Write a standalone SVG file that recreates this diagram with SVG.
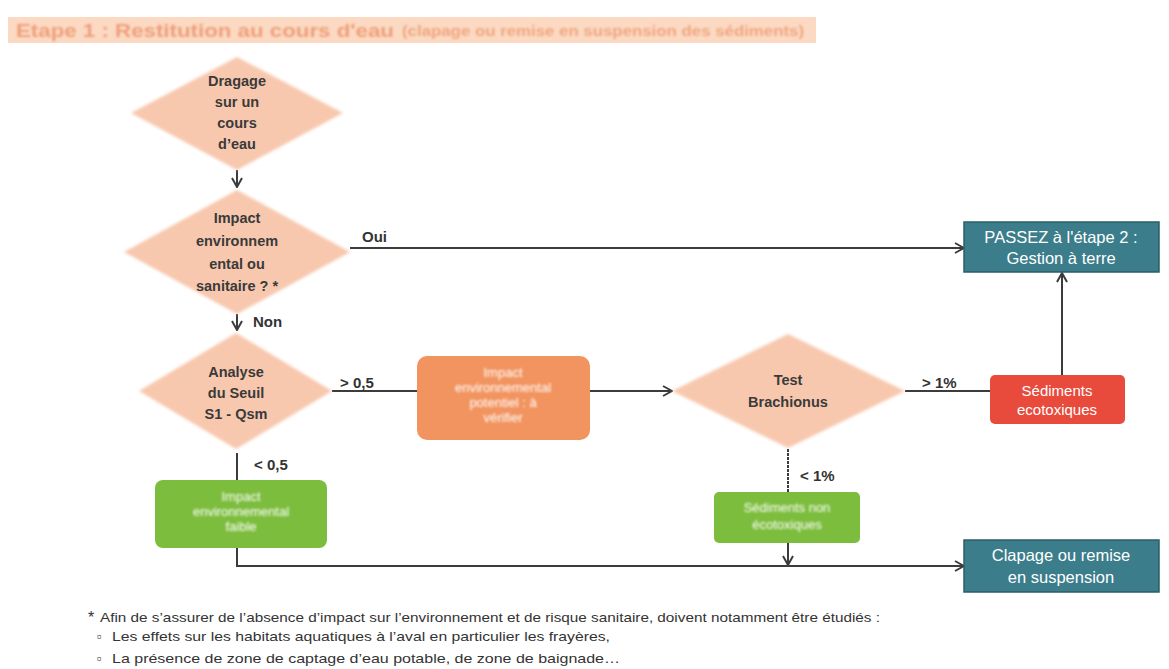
<svg xmlns="http://www.w3.org/2000/svg" width="1169" height="669" viewBox="0 0 1169 669">
  <style>
    .dia { fill: #f8c8ae; }
    .dt { font-family: "Liberation Sans", Arial, sans-serif; font-size: 14.5px; font-weight: bold; fill: #3a3a3a; text-anchor: middle; }
    .lbl { font-family: "Liberation Sans", Arial, sans-serif; font-size: 15px; font-weight: bold; fill: #333; }
    .bt { font-family: "Liberation Sans", Arial, sans-serif; font-size: 13px; fill: #ffffff; text-anchor: middle; }
    .bt-md { font-size: 15px; }
    .bt-lg { font-size: 16.5px; }
    .soft { filter: url(#soft); }
    .wire { stroke: #3c3c3c; stroke-width: 2; fill: none; }
    .note { font-family: "Liberation Sans", Arial, sans-serif; font-size: 13.5px; fill: #333; }
  </style>
  <defs>
    <marker id="arr" viewBox="0 0 12 12" refX="11" refY="6" markerWidth="12" markerHeight="12" markerUnits="userSpaceOnUse" orient="auto">
      <path d="M2,1 L11,6 L2,11" fill="none" stroke="#3c3c3c" stroke-width="2"/>
    </marker>
    <filter id="soft" x="-10%" y="-30%" width="120%" height="160%">
      <feGaussianBlur stdDeviation="1.3"/>
    </filter>
    <filter id="edge" x="-10%" y="-10%" width="120%" height="120%">
      <feGaussianBlur stdDeviation="1.5"/>
    </filter>
  </defs>

  <rect width="1169" height="669" fill="#ffffff"/>

  <!-- title banner -->
  <g id="title">
    <rect x="8" y="17" width="808" height="26" fill="#fbd9c2"/>
    <g class="soft">
      <text x="16" y="37" font-family="Liberation Sans, Arial, sans-serif" font-size="18" font-weight="bold" fill="#ef9f7a" textLength="378" lengthAdjust="spacingAndGlyphs">Etape 1 : Restitution au cours d'eau</text>
      <text x="402" y="36" font-family="Liberation Sans, Arial, sans-serif" font-size="14" font-weight="bold" fill="#f0a681" textLength="402" lengthAdjust="spacingAndGlyphs">(clapage ou remise en suspension des sédiments)</text>
    </g>
  </g>

  <!-- connectors -->
  <g id="connectors">
    <line class="wire" x1="237" y1="170" x2="237" y2="187" marker-end="url(#arr)"/>
    <line class="wire" x1="350" y1="248" x2="964" y2="248" marker-end="url(#arr)"/>
    <line class="wire" x1="237" y1="314" x2="237" y2="330" marker-end="url(#arr)"/>
    <line class="wire" x1="332" y1="391" x2="417" y2="391"/>
    <line class="wire" x1="590" y1="391" x2="672" y2="391" marker-end="url(#arr)"/>
    <line class="wire" x1="905" y1="391" x2="990" y2="391"/>
    <line class="wire" x1="1062" y1="375" x2="1062" y2="273" marker-end="url(#arr)"/>
    <line class="wire" x1="237" y1="453" x2="237" y2="480" stroke-width="3"/>
    <line class="wire" x1="788" y1="449" x2="788" y2="492" stroke-dasharray="3 1"/>
    <line class="wire" x1="788" y1="543" x2="788" y2="565" marker-end="url(#arr)"/>
    <polyline class="wire" points="237,548 237,566 964,566" marker-end="url(#arr)"/>
  </g>

  <!-- connector labels -->
  <g id="labels">
    <text class="lbl" x="362" y="242">Oui</text>
    <text class="lbl" x="253" y="327">Non</text>
    <text class="lbl" x="340" y="388">&gt; 0,5</text>
    <text class="lbl" x="254" y="470">&lt; 0,5</text>
    <text class="lbl" x="922" y="388">&gt; 1%</text>
    <text class="lbl" x="800" y="481">&lt; 1%</text>
  </g>

  <!-- decision: dredging -->
  <g id="n-dragage">
    <polygon class="dia" filter="url(#edge)" points="237,57 343,113 237,170 131,113"/>
    <text class="dt" x="237" y="86">Dragage</text>
    <text class="dt" x="237" y="107">sur un</text>
    <text class="dt" x="237" y="128">cours</text>
    <text class="dt" x="237" y="149">d’eau</text>
  </g>

  <!-- decision: impact -->
  <g id="n-impact">
    <polygon class="dia" filter="url(#edge)" points="237,190 350,252 237,314 124,252"/>
    <text class="dt" x="237" y="223">Impact</text>
    <text class="dt" x="237" y="246">environnem</text>
    <text class="dt" x="237" y="269">ental ou</text>
    <text class="dt" x="237" y="291">sanitaire ? *</text>
  </g>

  <!-- decision: threshold S1 -->
  <g id="n-seuil">
    <polygon class="dia" filter="url(#edge)" points="236,333 332,391 236,449 139,391"/>
    <text class="dt" x="236" y="377">Analyse</text>
    <text class="dt" x="236" y="398">du Seuil</text>
    <text class="dt" x="236" y="419">S1 - Qsm</text>
  </g>

  <!-- potential impact box -->
  <g id="n-potentiel">
    <rect x="417" y="356" width="173" height="84" rx="10" fill="#f2945f"/>
    <g class="soft">
      <text class="bt" x="503" y="377">Impact</text>
      <text class="bt" x="503" y="392">environnemental</text>
      <text class="bt" x="503" y="407">potentiel : à</text>
      <text class="bt" x="503" y="422">vérifier</text>
    </g>
  </g>

  <!-- decision: Brachionus test -->
  <g id="n-brachionus">
    <polygon class="dia" filter="url(#edge)" points="788,334 905,391 788,448 672,391"/>
    <text class="dt" x="788" y="385">Test</text>
    <text class="dt" x="788" y="407">Brachionus</text>
  </g>

  <!-- ecotoxic sediments -->
  <g id="n-ecotox">
    <rect x="990" y="375" width="135" height="49" rx="5" fill="#e84a3b"/>
    <text class="bt bt-md" x="1057" y="396">Sédiments</text>
    <text class="bt bt-md" x="1057" y="415">ecotoxiques</text>
  </g>

  <!-- step 2 -->
  <g id="n-etape2">
    <rect x="964" y="222" width="195" height="50" fill="#3b7d8b" stroke="#2b5e68" stroke-width="1.5"/>
    <text class="bt bt-lg" x="1061" y="243">PASSEZ à l'étape 2 :</text>
    <text class="bt bt-lg" x="1061" y="264">Gestion à terre</text>
  </g>

  <!-- low impact -->
  <g id="n-faible">
    <rect x="155" y="480" width="172" height="68" rx="8" fill="#7cbd3e"/>
    <g class="soft">
      <text class="bt" x="241" y="501">Impact</text>
      <text class="bt" x="241" y="516">environnemental</text>
      <text class="bt" x="241" y="531">faible</text>
    </g>
  </g>

  <!-- non ecotoxic -->
  <g id="n-nonecotox">
    <rect x="714" y="492" width="146" height="51" rx="5" fill="#7cbd3e"/>
    <g class="soft">
      <text class="bt" x="787" y="512">Sédiments non</text>
      <text class="bt" x="787" y="529">écotoxiques</text>
    </g>
  </g>

  <!-- dumping / resuspension -->
  <g id="n-clapage">
    <rect x="964" y="540" width="195" height="52" fill="#3b7d8b" stroke="#2b5e68" stroke-width="1.5"/>
    <text class="bt bt-lg" x="1061" y="561">Clapage ou remise</text>
    <text class="bt bt-lg" x="1061" y="583">en suspension</text>
  </g>

  <!-- footnote -->
  <g id="footnote">
    <text class="note" x="88" y="623" style="font-size:16px">*</text>
    <text class="note" x="100" y="622" textLength="780" lengthAdjust="spacingAndGlyphs">Afin de s’assurer de l’absence d’impact sur l’environnement et de risque sanitaire, doivent notamment être étudiés :</text>
    <text class="note" x="97" y="641" fill="#bbbbbb">▫</text>
    <text class="note" x="112" y="641" textLength="498" lengthAdjust="spacingAndGlyphs">Les effets sur les habitats aquatiques à l’aval en particulier les frayères,</text>
    <text class="note" x="97" y="663" fill="#bbbbbb">▫</text>
    <text class="note" x="112" y="663" textLength="508" lengthAdjust="spacingAndGlyphs">La présence de zone de captage d’eau potable, de zone de baignade…</text>
  </g>
</svg>
